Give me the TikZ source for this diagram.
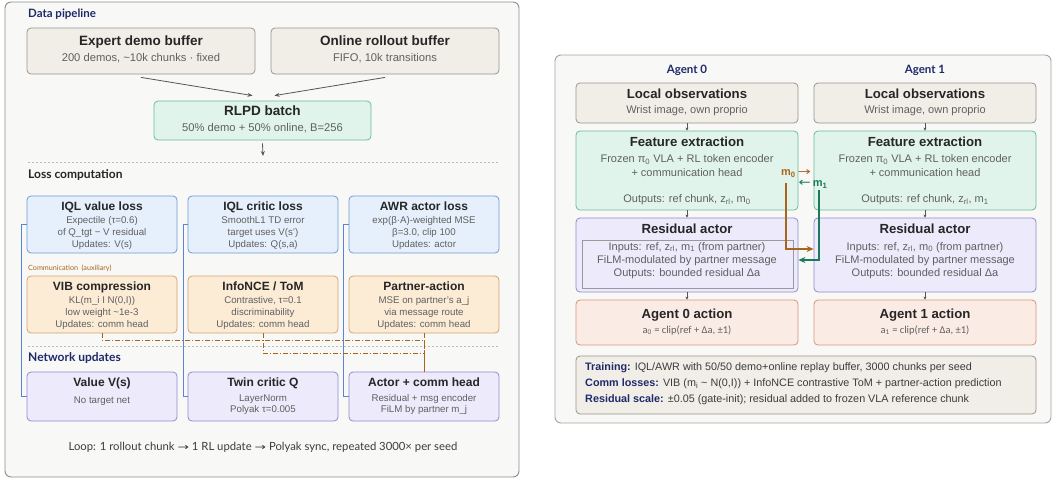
\documentclass[tikz,border=0pt]{standalone}
\usepackage{fontspec}
\usepackage{graphicx}
\setmainfont{Liberation Sans}
\newfontfamily\lato{Lato}
\newfontfamily\dv{DejaVu Sans}
\newfontfamily\carl{Carlito}
\usetikzlibrary{arrows.meta}
\definecolor{panelf}{HTML}{F8F8F6}
\definecolor{paneld}{HTML}{8C8C8C}
\definecolor{sandf}{HTML}{F1EEE8}
\definecolor{sandd}{HTML}{9A958C}
\definecolor{tealf}{HTML}{E0F4EC}
\definecolor{teald}{HTML}{6DBB9E}
\definecolor{bluef}{HTML}{E6F0FC}
\definecolor{blued}{HTML}{6F9AD6}
\definecolor{orf}{HTML}{FCECD6}
\definecolor{ord}{HTML}{D2A571}
\definecolor{purf}{HTML}{ECEAFB}
\definecolor{purd}{HTML}{8F8BD2}
\definecolor{actf}{HTML}{FBEBE5}
\definecolor{actd}{HTML}{D99479}
\definecolor{ink}{HTML}{262626}
\definecolor{sub}{HTML}{606060}
\definecolor{navy}{HTML}{1F2A6B}
\definecolor{bline}{HTML}{5B84D8}
\definecolor{brown}{HTML}{A8661B}
\definecolor{grn}{HTML}{1A7A5A}
\definecolor{arr}{HTML}{555555}
\newcommand\rarr[1]{{\dv\mdseries\fontsize{#1}{#1}\selectfont\scalebox{1.45}[1]{→}}}
\newcommand\larr[1]{{\dv\mdseries\fontsize{#1}{#1}\selectfont\scalebox{1.2}[1]{←}}}
\tikzset{
  panel/.style={draw=paneld, fill=panelf, rounded corners=6pt, line width=0.9pt},
  box/.style={rounded corners=4pt, line width=0.8pt, inner sep=0pt},
  sandbox/.style={box, fill=sandf, draw=sandd},
  tealbox/.style={box, fill=tealf, draw=teald},
  bluebox/.style={box, fill=bluef, draw=blued},
  orbox/.style={box, fill=orf, draw=ord},
  purbox/.style={box, fill=purf, draw=purd},
  actbox/.style={box, fill=actf, draw=actd},
  tt/.style={inner sep=0pt, anchor=mid, text=ink, font=\fontsize{#1}{#1}\selectfont\bfseries},
  ln/.style={inner sep=0pt, anchor=mid, text=sub, font=\fontsize{#1}{#1}\selectfont},
  sec/.style={inner sep=0pt, anchor=mid west, text=navy, font=\lato\fontsize{#1}{#1}\selectfont\bfseries},
  agent/.style={inner sep=0pt, anchor=mid, text=navy, font=\lato\fontsize{11.5}{11.5}\selectfont\bfseries},
  sep/.style={draw=gray!55, dashed, dash pattern=on 2pt off 2pt, line width=0.6pt},
  bconn/.style={draw=bline, line width=1pt},
  cconn/.style={draw=brown, line width=0.9pt, dash pattern=on 5pt off 2pt on 1pt off 2pt},
  garrow/.style={draw=arr, line width=0.8pt, -{Stealth[length=5pt,width=4pt]}},
  sarrow/.style={draw=arr, line width=0.6pt, -{Stealth[length=3pt,width=3pt]}},
  msg/.style={line width=1.3pt, -{Stealth[length=7pt,width=6pt]}},
  info/.style={inner sep=0pt, anchor=mid west, text=ink!90, font=\fontsize{10.8}{10.8}\selectfont},
}
\begin{document}
\begin{tikzpicture}[x=1pt,y=-1pt]
\useasboundingbox (0,0) rectangle (1053,480);
% ---------------- left panel ----------------
\draw[panel] (5,2) rectangle (519,477);
\node[sec=11.5] (dp) at (28,15) {Data pipeline};
\node[sandbox, minimum width=228pt, minimum height=46pt] (e1) at (141,51) {};
\node[tt=13.5] at (141,43) {Expert demo buffer};
\node[ln=11.2] at (141,58.5) {200 demos, \textasciitilde10k chunks · fixed};
\node[sandbox, minimum width=228pt, minimum height=46pt] (e2) at (385,51) {};
\node[tt=13.5] at (385,43) {Online rollout buffer};
\node[ln=11.2] at (385,58.5) {FIFO, 10k transitions};
\node[tealbox, minimum width=217pt, minimum height=39pt] (rl) at (262.5,120.5) {};
\node[tt=13.5] at (262.5,113) {RLPD batch};
\node[ln=11.2] at (262.5,129) {50\% demo + 50\% online, B=256};
\draw[garrow] ([yshift=-3pt]e1.south) -- ([xshift=-10pt,yshift=5pt]rl.north);
\draw[garrow] ([yshift=-3pt]e2.south) -- ([xshift=12pt,yshift=5pt]rl.north);
\coordinate (rlo) at (263,156);
\draw[garrow] ([yshift=-3pt]rl.south) -- (rlo);
\draw[sep] (28,162.5) -- (499,162.5);
\node[sec=12, text=ink] (lc) at (28,176) {Loss computation};
% row 1
\node[bluebox, minimum width=150pt, minimum height=57pt] (v1) at (102,224.5) {};
\node[tt=12] at (102,208) {IQL value loss};
\node[ln=9.7] at (102,221) {Expectile (τ=0.6)};
\node[ln=9.7] at (102,233) {of Q\_tgt − V residual};
\node[ln=9.7] at (102,245) {Updates: V(s)};
\node[bluebox, minimum width=150pt, minimum height=57pt] (q1) at (263,224.5) {};
\node[tt=12] at (263,208) {IQL critic loss};
\node[ln=9.7] at (263,221) {SmoothL1 TD error};
\node[ln=9.7] at (263,233) {target uses V(s')};
\node[ln=9.7] at (263,245) {Updates: Q(s,a)};
\node[bluebox, minimum width=150pt, minimum height=57pt] (a1) at (424,224.5) {};
\node[tt=12] at (424,208) {AWR actor loss};
\node[ln=9.7] at (424,221) {exp(β·A)-weighted MSE};
\node[ln=9.7] at (424,233) {β=3.0, clip 100};
\node[ln=9.7] at (424,245) {Updates: actor};
\node[inner sep=0pt, anchor=mid west, text=brown, font=\lato\fontsize{7.2}{7.2}\selectfont] (cm) at (28,268) {Communication\hspace{3.5pt}(auxiliary)};
% row 2
\node[orbox, minimum width=150pt, minimum height=57pt] (c1) at (102,304.5) {};
\node[tt=12] at (102,287.5) {VIB compression};
\node[ln=9.7] at (102,301) {KL(m\_i I N(0,I))};
\node[ln=9.7] at (102,313) {low weight \textasciitilde1e-3};
\node[ln=9.7] at (102,325) {Updates: comm head};
\node[orbox, minimum width=150pt, minimum height=57pt] (c2) at (263,304.5) {};
\node[tt=12] at (263,287.5) {InfoNCE / ToM};
\node[ln=9.7] at (263,301) {Contrastive, τ=0.1};
\node[ln=9.7] at (263,313) {discriminability};
\node[ln=9.7] at (263,325) {Updates: comm head};
\node[orbox, minimum width=150pt, minimum height=57pt] (c3) at (424,304.5) {};
\node[tt=12] at (424,287.5) {Partner-action};
\node[ln=9.7] at (424,301) {MSE on partner's a\_j};
\node[ln=9.7] at (424,313) {via message route};
\node[ln=9.7] at (424,325) {Updates: comm head};
\draw[sep] (28,346) -- (499,346);
\node[sec=12] (nu) at (28,359) {Network updates};
% row 3
\node[purbox, minimum width=150pt, minimum height=49pt] (v3) at (102,396.5) {};
\node[tt=12] at (102,383.5) {Value V(s)};
\node[ln=9.7] at (102,401) {No target net};
\node[purbox, minimum width=150pt, minimum height=49pt] (q3) at (263,396.5) {};
\node[tt=12] at (263,383.5) {Twin critic Q};
\node[ln=9.7] at (263,398.5) {LayerNorm};
\node[ln=9.7] at (263,410) {Polyak τ=0.005};
\node[purbox, minimum width=150pt, minimum height=49pt] (a3) at (424,396.5) {};
\node[tt=12] at (424,383.5) {Actor + comm head};
\node[ln=9.7] at (424,398.5) {Residual + msg encoder};
\node[ln=9.7] at (424,410) {FiLM by partner m\_j};
% connectors
\draw[bconn] (v1.west) -- ++(-5,0) |- (v3.west);
\draw[bconn] (q1.west) -- ++(-4,0) |- (q3.west);
\draw[bconn] (a1.west) -- ++(-5,0) |- (a3.west);
\draw[cconn] (c1.south) -- ++(0,7) -| (a3.north);
\draw[cconn] (c2.south) -- ++(0,20) -| (a3.north);
\draw[cconn] (c3.south) -- (a3.north);
\node[inner sep=0pt, anchor=mid, text=ink!90, font=\lato\fontsize{11.3}{11.3}\selectfont] (loop) at (263,448) {Loop: 1 rollout chunk \rarr{9.5} 1 RL update \rarr{9.5} Polyak sync, repeated 3000× per seed};
% ---------------- right panel ----------------
\draw[panel, draw=paneld!80] (555,55) rectangle (1051,423);
\node[agent] (ag0) at (687,71) {Agent 0};
\node[agent] (ag1) at (925,71) {Agent 1};
% obs
\node[sandbox, minimum width=222pt, minimum height=40pt] (o0) at (687,103) {};
\node[tt=13.2] at (687,95.5) {Local observations};
\node[ln=11] at (687,110.5) {Wrist image, own proprio};
\node[sandbox, minimum width=222pt, minimum height=40pt] (o1) at (925,103) {};
\node[tt=13.2] at (925,95.5) {Local observations};
\node[ln=11] at (925,110.5) {Wrist image, own proprio};
% feature
\node[tealbox, minimum width=222pt, minimum height=79pt] (f0) at (687,170.5) {};
\node[tt=13.2] at (687,143.5) {Feature extraction};
\node[ln=11] at (687,160) {Frozen π\textsubscript{0} VLA + RL token encoder};
\node[ln=11] at (687,173.5) {+ communication head};
\node[ln=11] at (687,200) {Outputs: ref chunk, z\textsubscript{rl}, m\textsubscript{0}};
\node[tealbox, minimum width=222pt, minimum height=79pt] (f1) at (925,170.5) {};
\node[tt=13.2] at (925,143.5) {Feature extraction};
\node[ln=11] at (925,160) {Frozen π\textsubscript{0} VLA + RL token encoder};
\node[ln=11] at (925,173.5) {+ communication head};
\node[ln=11] at (925,200) {Outputs: ref chunk, z\textsubscript{rl}, m\textsubscript{1}};
% residual
\node[purbox, minimum width=222pt, minimum height=74pt] (r0) at (687,255) {};
\draw[draw=gray!80, line width=0.8pt] (582,240) rectangle (793,288);
\node[tt=13.2] at (687,231) {Residual actor};
\node[ln=11] at (687,247.5) {Inputs: ref, z\textsubscript{rl}, m\textsubscript{1} (from partner)};
\node[ln=11] at (687,261) {FiLM-modulated by partner message};
\node[ln=11] at (687,274) {Outputs: bounded residual Δa};
\node[purbox, minimum width=222pt, minimum height=74pt] (r1) at (925,255) {};
\node[tt=13.2] at (925,231) {Residual actor};
\node[ln=11] at (925,247.5) {Inputs: ref, z\textsubscript{rl}, m\textsubscript{0} (from partner)};
\node[ln=11] at (925,261) {FiLM-modulated by partner message};
\node[ln=11] at (925,274) {Outputs: bounded residual Δa};
% action
\node[actbox, minimum width=222pt, minimum height=45pt] (x0) at (687,322.5) {};
\node[tt=13.2] at (687,315.5) {Agent 0 action};
\node[ln=10.5, font=\carl\fontsize{10.5}{10.5}\selectfont] at (687,330.5) {a\textsubscript{0} = clip(ref + Δa, ±1)};
\node[actbox, minimum width=222pt, minimum height=45pt] (x1) at (925,322.5) {};
\node[tt=13.2] at (925,315.5) {Agent 1 action};
\node[ln=10.5, font=\carl\fontsize{10.5}{10.5}\selectfont] at (925,330.5) {a\textsubscript{1} = clip(ref + Δa, ±1)};
% small arrows
\draw[sarrow] (o0.south) -- (f0.north);
\draw[sarrow] (o1.south) -- (f1.north);
\draw[sarrow] (f0.south) -- (r0.north);
\draw[sarrow] (f1.south) -- (r1.north);
\draw[sarrow] (r0.south) -- (x0.north);
\draw[sarrow] (r1.south) -- (x1.north);
% messages
\coordinate (m0s) at (786,183);
\coordinate (m1s) at (819,190);
\draw[msg, brown] (m0s) |- ([yshift=6pt]r1.west);
\draw[msg, grn] (m1s) |- ([yshift=-5pt]r0.east);
\node[inner sep=0pt, anchor=mid, text=brown, font=\fontsize{11}{11}\selectfont\bfseries] (m0l) at (796,173) {m\textsubscript{0}\hspace{2pt}\rarr{11}};
\node[inner sep=0pt, anchor=mid, text=grn, font=\fontsize{11}{11}\selectfont\bfseries] (m1l) at (813,184) {\larr{12}\hspace{2pt}m\textsubscript{1}};
% info box
\node[sandbox, minimum width=460pt, minimum height=58pt] (info) at (806,385) {};
\node[info] (i1) at (585,368) {{\color{navy}\bfseries Training:} IQL/AWR with 50/50 demo+online replay buffer, 3000 chunks per seed};
\node[info] (i2) at (585,384) {{\color{navy}\bfseries Comm losses:} VIB (m\textsubscript{i} \textasciitilde{} N(0,I)) + InfoNCE contrastive ToM + partner-action prediction};
\node[info] (i3) at (585,400) {{\color{navy}\bfseries Residual scale:} ±0.05 (gate-init); residual added to frozen VLA reference chunk};
\end{tikzpicture}
\end{document}
